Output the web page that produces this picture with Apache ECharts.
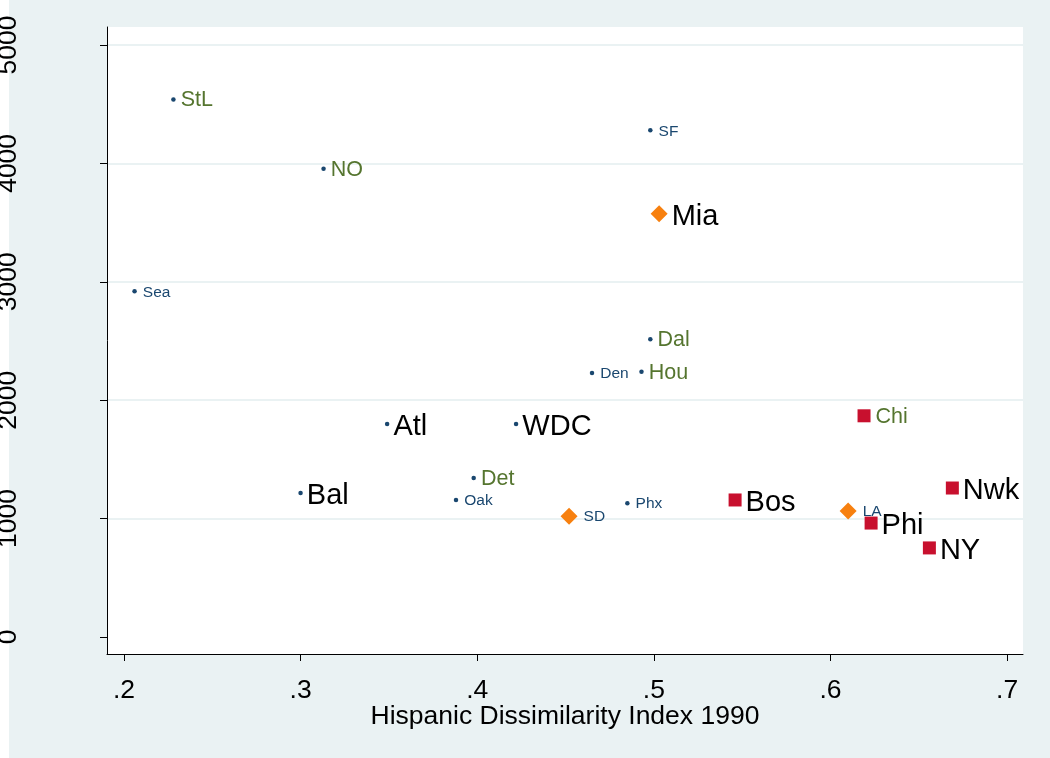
<!DOCTYPE html>
<html>
<head>
<meta charset="utf-8">
<script src="https://cdn.jsdelivr.net/npm/echarts@6/dist/echarts.min.js"></script>
<style>html,body{margin:0;padding:0;background:#fff}#c{width:1050px;height:758px}</style>
</head>
<body>
<div id="c"></div>
<script>
// ---- data ----
const cities     = ['StL','NO','SF','Mia','Sea','Dal','Den','Hou','Chi','Atl','WDC','Det','Bal','Oak','Phx','SD','Bos','LA','Phi','NY','Nwk'];
const hispDissim = [0.228,0.313,0.498,0.503,0.206,0.498,0.465,0.493,0.619,0.349,0.422,0.398,0.300,0.388,0.485,0.452,0.546,0.610,0.623,0.656,0.669];
const yValues    = [4540,3955,4280,3575,2920,2515,2230,2240,1868,1798,1798,1342,1216,1157,1130,1020,1157,1064,962,752,1258];
const markerType = ['dot','dot','dot','diamond','dot','dot','dot','dot','square','dot','dot','dot','dot','dot','dot','diamond','square','diamond','square','square','square'];
const labelSize  = ['medium','medium','small','large','small','medium','small','medium','medium','large','large','medium','large','small','small','small','large','small','large','large','large'];
const xTicks = [0.2,0.3,0.4,0.5,0.6,0.7];
const xTickLabels = ['.2','.3','.4','.5','.6','.7'];
const yTicks = [0,1000,2000,3000,4000,5000];
const xTitle = 'Hispanic Dissimilarity Index 1990';

// ---- styles ----
const FONT = "'Liberation Sans', Arial, Helvetica, sans-serif";
const labelStyles = {
  small:  {fontSize: 15.5, color: '#1a476f', offset: [2, 1]},
  medium: {fontSize: 21.5, color: '#55752f', offset: [1, 1]},
  large:  {fontSize: 29,   color: '#000000', offset: [0, 3]}
};
const markerStyles = {
  dot:     {symbol: 'circle',  symbolSize: 4.5, color: '#1a476f'},
  diamond: {symbol: 'diamond', symbolSize: 17,  color: '#f7800f'},
  square:  {symbol: 'rect',    symbolSize: 13,  color: '#c8102e'}
};

function buildSeries(type) {
  const data = [];
  cities.forEach((c, i) => {
    if (markerType[i] !== type) return;
    const ls = labelStyles[labelSize[i]];
    data.push({
      name: c,
      value: [hispDissim[i], yValues[i]],
      label: {fontSize: ls.fontSize, color: ls.color, offset: ls.offset}
    });
  });
  const ms = markerStyles[type];
  return {
    type: 'scatter',
    symbol: ms.symbol,
    symbolSize: ms.symbolSize,
    itemStyle: {color: ms.color, opacity: 1},
    label: {
      show: true, position: 'right', distance: 4,
      formatter: p => p.name, fontFamily: FONT
    },
    emphasis: {disabled: true},
    data: data,
    z: type === 'dot' ? 3 : 4
  };
}

const chart = echarts.init(document.getElementById('c'), null, {renderer: 'canvas'});
chart.setOption({
  animation: false,
  backgroundColor: '#ffffff',
  textStyle: {fontFamily: FONT},
  graphic: [{
    type: 'rect', left: 9, top: 0, z: -10, silent: true,
    shape: {width: 1041, height: 758},
    style: {fill: '#eaf2f3'}
  }],
  grid: {
    left: 107, top: 27, right: 27, bottom: 104,
    containLabel: false, outerBoundsMode: 'none',
    show: true, backgroundColor: '#ffffff', borderWidth: 0
  },
  xAxis: {
    type: 'value', min: 0.1904, max: 0.709,
    name: xTitle, nameLocation: 'middle', nameGap: 49, nameMoveOverlap: false,
    nameTextStyle: {fontSize: 26.5, color: '#000', fontFamily: FONT},
    axisLine: {show: true, onZero: false, lineStyle: {color: '#000', width: 1}},
    axisTick: {show: true, inside: false, length: 7, customValues: xTicks, lineStyle: {color: '#000', width: 1}},
    axisLabel: {
      customValues: xTicks, margin: 23, fontSize: 26.5, color: '#000', fontFamily: FONT,
      formatter: v => { const k = xTicks.findIndex(t => Math.abs(t - v) < 1e-9); return k >= 0 ? xTickLabels[k] : ''; }
    },
    splitLine: {show: false}
  },
  yAxis: {
    type: 'value', min: -144, max: 5152,
    axisLine: {show: true, onZero: false, lineStyle: {color: '#000', width: 1}},
    axisTick: {show: true, inside: false, length: 7, customValues: yTicks, lineStyle: {color: '#000', width: 1}},
    axisLabel: {
      customValues: yTicks, rotate: 90, margin: 85, fontSize: 26.5, color: '#000', fontFamily: FONT,
      formatter: v => String(Math.round(v))
    },
    splitLine: {show: true, lineStyle: {color: ['#ffffff','#eaf2f3','#eaf2f3','#eaf2f3','#eaf2f3','#eaf2f3'], width: 2}}
  },
  series: ['dot','diamond','square'].map(buildSeries)
});
</script>
</body>
</html>
